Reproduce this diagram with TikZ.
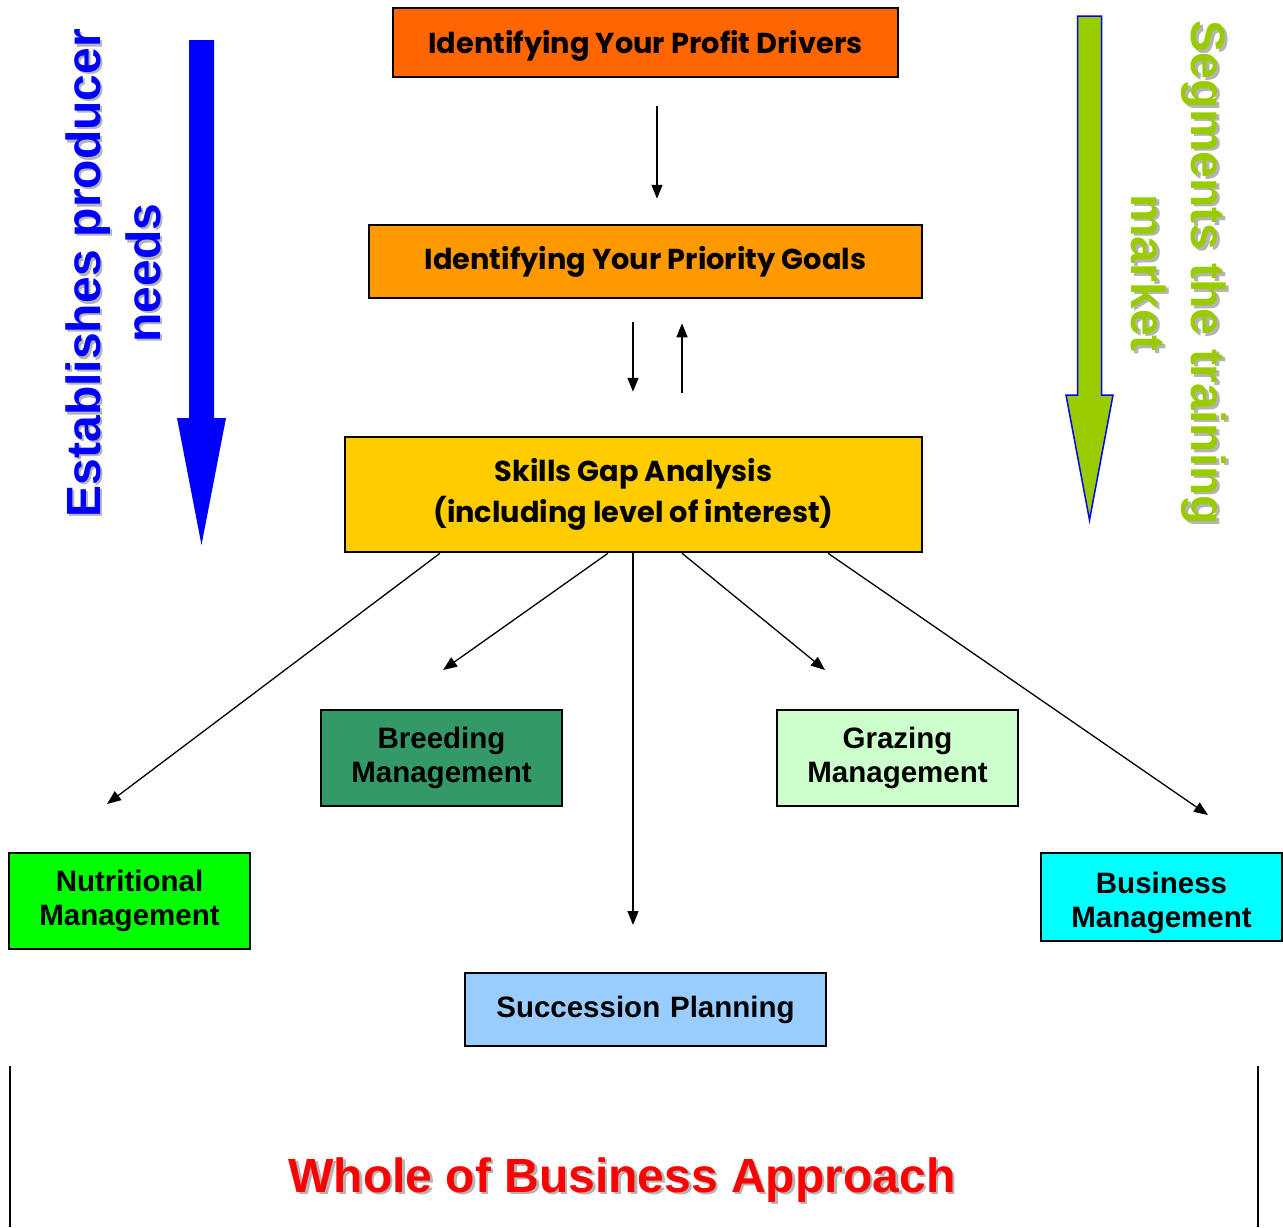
\documentclass[tikz,border=0pt]{standalone}
\usepackage{fontspec}
\setmainfont{Liberation Sans}
\newfontfamily\casual{Poppins}
\usetikzlibrary{arrows.meta}
\definecolor{cProfit}{HTML}{FF6600}
\definecolor{cGoals}{HTML}{FF9900}
\definecolor{cSkills}{HTML}{FFCC00}
\definecolor{cBreed}{HTML}{339966}
\definecolor{cGraze}{HTML}{CCFFCC}
\definecolor{cNutri}{HTML}{00FF00}
\definecolor{cBusi}{HTML}{00FFFF}
\definecolor{cSucc}{HTML}{99CCFF}
\definecolor{cLime}{HTML}{99CC00}
\definecolor{cShadow}{HTML}{B4B4B4}
\tikzset{
  box/.style={draw=black, line width=2.5pt, inner sep=0pt, align=center},
  stagebox/.style={box, font=\casual\bfseries\fontsize{28.8}{41}\selectfont},
  topicbox/.style={box, font=\bfseries\fontsize{29.5}{34}\selectfont, text width=236pt},
  link/.style={line width=1.3pt, -{Triangle[length=14pt,width=11pt]}},
  sidelabel/.style={font=\bfseries\fontsize{48}{60}\selectfont, align=center, inner sep=0pt},
  bigarrow/.style={line join=miter}
}
\begin{document}
\begin{tikzpicture}[x=1pt,y=-1pt]
\useasboundingbox (0,0) rectangle (1283,1227);

% stage boxes
\node[stagebox, fill=cProfit, minimum width=505pt, minimum height=69pt] (profit) at (645.5,42.5) {\raisebox{-3pt}[\height][\depth]{Identifying Your Profit Drivers}};
\node[stagebox, fill=cGoals, minimum width=553pt, minimum height=73pt] (goals) at (645.5,261.5) {Identifying Your Priority Goals};
\node[stagebox, fill=cSkills, minimum width=577pt, minimum height=115pt] (skills) at (633.5,494.5) {Skills Gap Analysis\\(including level of interest)};

% topic boxes
\node[topicbox, fill=cBreed, minimum width=241pt, minimum height=96pt] (breed) at (441.5,758) {Breeding\\Management};
\node[topicbox, fill=cGraze, minimum width=241pt, minimum height=96pt] (graze) at (897.5,758) {Grazing\\Management};
\node[topicbox, fill=cNutri, minimum width=241pt, minimum height=96pt] (nutri) at (129.5,901) {Nutritional\\Management};
\node[topicbox, fill=cBusi, minimum width=241pt, minimum height=88pt] (busi) at (1161.5,897) {\raisebox{-6pt}[\height][\depth]{\parbox{236pt}{\centering Business\\Management}}};
\node[topicbox, fill=cSucc, text width=350pt, minimum width=361pt, minimum height=73pt] (succ) at (645.5,1009.5) {Succession Planning};

% flow between the stages
\draw[link, shorten <=28pt, shorten >=25pt] ([xshift=11.5pt]profit.south) -- ([xshift=11.5pt]goals.north);
\draw[link, shorten <=23pt, shorten >=44pt] ([xshift=-12.5pt]goals.south) -- ([xshift=-0.5pt]skills.north);
\draw[link, shorten <=43pt, shorten >=24pt] ([xshift=48.5pt]skills.north) -- ([xshift=36.5pt]goals.south);

% fan out to the management topics
\coordinate (e1) at (107,804);
\coordinate (e2) at (443,670);
\coordinate (e3) at (633,925);
\coordinate (e4) at (825,670);
\coordinate (e5) at (1208,815);
\draw[link] ([xshift=-193.5pt]skills.south) -- (e1);
\draw[link] ([xshift=-25.5pt]skills.south) -- (e2);
\draw[link] ([xshift=-0.5pt]skills.south) -- (e3);
\draw[link] ([xshift=48.5pt]skills.south) -- (e4);
\draw[link] ([xshift=194.5pt]skills.south) -- (e5);

% big side arrows
\fill[blue, bigarrow] (189,40) -- (214,40) -- (214,418) -- (226,418) -- (201.5,545) -- (177,418) -- (189,418) -- cycle;
\filldraw[fill=cLime, draw=blue, line width=1.5pt, bigarrow] (1077.5,16) -- (1101.5,16) -- (1101.5,395) -- (1113,395) -- (1089.5,520) -- (1066,395) -- (1077.5,395) -- cycle;

% side labels with drop shadows
\node[sidelabel, text=cShadow, rotate=90] (lblLsh) at (115.5,275.5) {Establishes producer\\needs};
\node[sidelabel, text=blue, rotate=90] (lblL) at (113,273) {Establishes producer\\needs};
\node[sidelabel, text=cShadow, rotate=-90] (lblRsh) at (1181.5,275.5) {Segments the training\\market};
\node[sidelabel, text=cLime, rotate=-90] (lblR) at (1179,273) {Segments the training\\market};

% bottom bracket and title
\coordinate (bl1) at (10,1066);
\coordinate (bl2) at (10,1227);
\coordinate (br1) at (1258,1066);
\coordinate (br2) at (1258,1227);
\draw[line width=1.3pt] (bl1) -- (bl2);
\draw[line width=1.3pt] (br1) -- (br2);
\node[sidelabel, text=cShadow] (titlesh) at (624.5,1182.5) {Whole of Business Approach};
\node[sidelabel, text=red] (title) at (622,1180) {Whole of Business Approach};
\end{tikzpicture}
\end{document}
